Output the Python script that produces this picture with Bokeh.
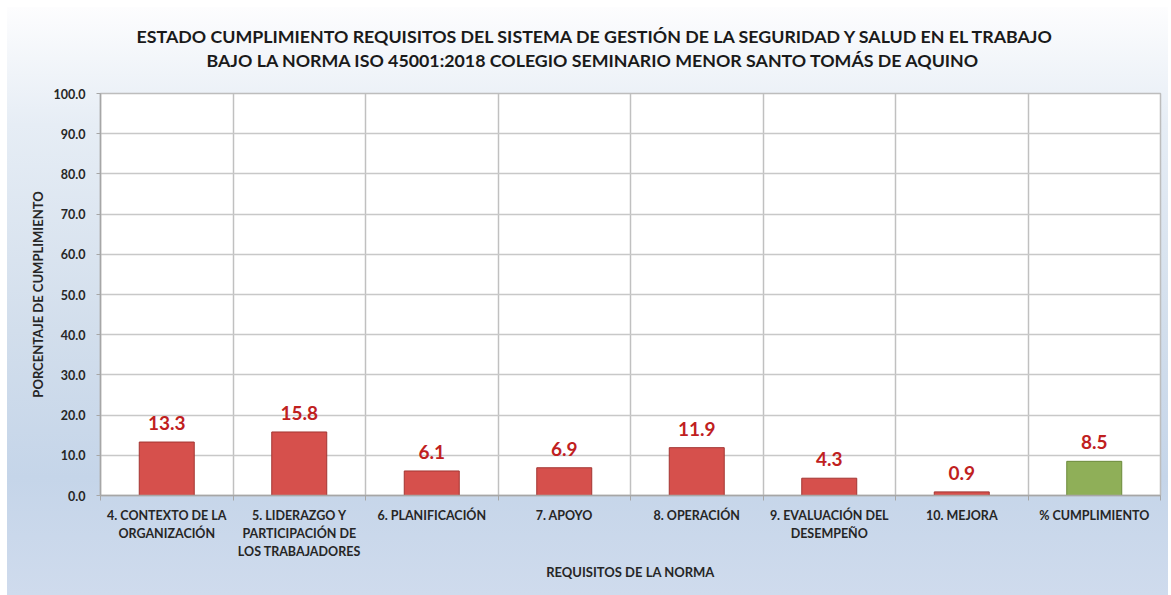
from bokeh.plotting import figure
from bokeh.models import FixedTicker, ColumnDataSource, Range1d, PrintfTickFormatter, Title
from bokeh.embed import file_html
from bokeh.resources import INLINE
from bokeh.core.properties import value

# ---- data ----
categories = [
    "4. CONTEXTO DE LA\nORGANIZACIÓN",
    "5. LIDERAZGO Y\nPARTICIPACIÓN DE\nLOS TRABAJADORES",
    "6. PLANIFICACIÓN",
    "7. APOYO",
    "8. OPERACIÓN",
    "9. EVALUACIÓN DEL\nDESEMPEÑO",
    "10. MEJORA",
    "% CUMPLIMIENTO",
]
values = [13.3, 15.8, 6.1, 6.9, 11.9, 4.3, 0.9, 8.5]
bar_colors = ["#d6504c"] * 7 + ["#8faf58"]
bar_lines = ["#a33532"] * 7 + ["#6b8a3a"]
y_ticks = [0, 10, 20, 30, 40, 50, 60, 70, 80, 90, 100]
title_lines = [
    "ESTADO CUMPLIMIENTO REQUISITOS DEL SISTEMA DE GESTIÓN DE LA SEGURIDAD Y SALUD EN EL TRABAJO",
    "BAJO LA NORMA ISO 45001:2018 COLEGIO SEMINARIO MENOR SANTO TOMÁS DE AQUINO",
]
x_title = "REQUISITOS DE LA NORMA"
y_title = "PORCENTAJE DE CUMPLIMIENTO"

FONT = "Lato"
n = len(categories)
xs = [i + 0.5 for i in range(n)]
src = ColumnDataSource(dict(
    x=xs, top=values, color=bar_colors, line=bar_lines,
    label=[f"{v:.1f}" for v in values],
))

p = figure(width=1161, height=588, x_range=Range1d(0, n), y_range=Range1d(0, 100),
           output_backend="svg", toolbar_location=None,
           min_border_left=93, min_border_right=8, min_border_top=86, min_border_bottom=100)
p.border_fill_color = None
p.styles = {"margin-left": "7px", "margin-top": "7px",
            "background": "linear-gradient(to bottom, #fdfdfe 0%, #e6edf5 20%, #d2deec 55%, #c5d5e9 80%, #cfdbed 100%)"}
p.background_fill_color = "white"
p.outline_line_color = "#bdbdbd"
p.outline_line_width = 1.5

p.vbar(x="x", top="top", width=0.415, source=src, fill_color="color", line_color="line", line_width=1)
p.text(x="x", y="top", text="label", source=src, text_align="center", text_baseline="alphabetic",
       y_offset=-19, text_color="#c0201e", text_font=value(FONT), text_font_style="bold",
       text_font_size="19px")

# x axis
xax = p.xaxis[0]
xax.ticker = FixedTicker(ticks=xs, minor_ticks=list(range(n + 1)))
xax.major_label_overrides = {x: c for x, c in zip(xs, categories)}
xax.major_tick_line_color = None
xax.minor_tick_line_color = "#a6a6a6"
xax.minor_tick_out = 5
xax.minor_tick_in = 0
xax.axis_line_color = "#a6a6a6"
xax.axis_line_width = 1.5
xax.major_label_text_font = FONT
xax.major_label_text_font_style = "bold"
xax.major_label_text_font_size = "12.5px"
xax.major_label_text_color = "#262626"
xax.major_label_standoff = 6
xax.axis_label = x_title
xax.axis_label_text_font = FONT
xax.axis_label_text_font_style = "bold"
xax.axis_label_text_font_size = "13px"
xax.axis_label_text_color = "#262626"
xax.axis_label_standoff = 2

# y axis
yax = p.yaxis[0]
yax.ticker = FixedTicker(ticks=y_ticks)
yax.formatter = PrintfTickFormatter(format="%.1f")
yax.minor_tick_line_color = None
yax.major_tick_line_color = "#a6a6a6"
yax.major_tick_out = 4
yax.major_tick_in = 0
yax.axis_line_color = "#a6a6a6"
yax.axis_line_width = 1.5
yax.major_label_text_font = FONT
yax.major_label_text_font_style = "bold"
yax.major_label_text_font_size = "12.5px"
yax.major_label_text_color = "#262626"
yax.major_label_standoff = 11
yax.axis_label = y_title
yax.axis_label_text_font = FONT
yax.axis_label_text_font_style = "bold"
yax.axis_label_text_font_size = "13px"
yax.axis_label_text_color = "#262626"
yax.axis_label_standoff = 5

# grids
p.xgrid.ticker = FixedTicker(ticks=list(range(1, n)))
p.xgrid.grid_line_color = "#c0c0c0"
p.xgrid.grid_line_width = 1.5
p.ygrid.grid_line_color = "#c8c8c8"
p.ygrid.grid_line_width = 1.5

# title: spacer + two lines (first added is closest to the frame)
p.add_layout(Title(text=" ", text_font_size="10px", standoff=10), "above")
p.add_layout(Title(text=title_lines[1], align="left", offset=106, standoff=0,
                   text_font=FONT, text_font_style="bold", text_font_size="17.8px",
                   text_color="#1a1a1a"), "above")
p.add_layout(Title(text=title_lines[0], align="left", offset=36, standoff=0,
                   text_font=FONT, text_font_style="bold", text_font_size="17.8px",
                   text_color="#1a1a1a"), "above")

open("out.html", "w").write(file_html(p, INLINE))
